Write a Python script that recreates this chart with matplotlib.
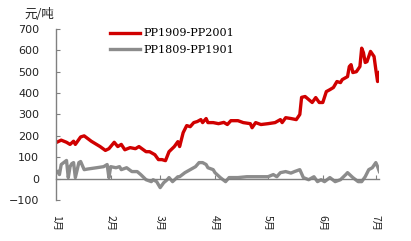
import matplotlib
matplotlib.use("Agg")
import matplotlib.pyplot as plt
import pandas as pd

plt.rcParams["font.family"] = ["DejaVu Sans", "Noto Sans CJK SC"]

red_dates = ["01-02","01-04","01-07","01-09","01-11","01-12","01-15","01-17","01-21","01-26",
             "01-29","01-31","02-03","02-05","02-07","02-09","02-12","02-15","02-17","02-21",
             "02-23","02-26","02-28","03-02","03-04","03-06","03-09","03-11","03-12","03-14",
             "03-16","03-18","03-20","03-22","03-24","03-25","03-27","03-28","03-31","04-03",
             "04-06","04-08","04-10","04-14","04-17","04-21","04-22","04-24","04-27","05-01",
             "05-05","05-08","05-09","05-11","05-14","05-17","05-19","05-20","05-22","05-24",
             "05-26","05-28","05-30","06-01","06-03","06-05","06-07","06-09","06-11","06-12",
             "06-15","06-16","06-17","06-18","06-20","06-22","06-23","06-24","06-25","06-26",
             "06-28","06-30","07-01","07-02","07-03"]
red_vals = [172,180,170,160,175,160,195,200,175,150,
            132,140,170,150,160,135,145,140,150,126,
            126,112,89,89,84,126,150,173,150,215,
            248,243,262,267,276,262,281,262,262,257,
            263,253,271,271,262,257,238,262,253,257,
            262,276,262,285,281,276,300,380,384,370,
            356,379,356,356,407,416,426,454,449,463,
            477,524,533,496,500,524,610,589,543,547,
            595,571,510,454,496]

grey_dates = ["01-02","01-03","01-04","01-07","01-08","01-09","01-10","01-11","01-12","01-14",
              "01-15","01-17","01-19","01-24","01-28","01-30","01-31","02-01","02-04","02-06",
              "02-07","02-10","02-13","02-16","02-18","02-21","02-24","02-25","02-27","03-01",
              "03-03","03-05","03-06","03-08","03-11","03-12","03-15","03-18","03-21","03-23",
              "03-25","03-27","03-28","03-31","04-01","04-04","04-07","04-09","04-14","04-19",
              "04-25","05-01","05-04","05-06","05-08","05-11","05-14","05-16","05-19","05-21",
              "05-24","05-27","05-29","05-31","06-02","06-05","06-08","06-11","06-14","06-15",
              "06-18","06-21","06-23","06-25","06-27","06-29","07-01","07-02","07-03"]
grey_vals = [33,19,66,85,5,56,70,75,5,75,
             80,42,45,51,56,66,5,56,51,56,
             42,51,33,33,19,-5,-14,-5,-14,-42,
             -19,-5,5,-14,9,9,28,42,56,75,
             75,66,51,42,28,5,-14,5,5,9,
             9,9,19,9,28,33,26,33,42,5,
             -5,9,-14,-5,-14,5,-14,-5,19,28,
             5,-14,-14,9,42,51,75,56,33]

month_labels = ["1月","2月","3月","4月","5月","6月","7月"]
series_names = ["PP1909-PP2001", "PP1809-PP1901"]

year = "2019-"
rd = pd.to_datetime([year + d for d in red_dates])
gd = pd.to_datetime([year + d for d in grey_dates])

fig = plt.figure(figsize=(4.11, 2.41), dpi=100)
ax = fig.add_axes([0.136, 0.170, 0.787, 0.710])

ax.plot(rd, red_vals, color="#D00000", lw=2.4, label=series_names[0], solid_joinstyle="round")
ax.plot(gd, grey_vals, color="#8C8C8C", lw=2.4, label=series_names[1], solid_joinstyle="round")

ax.set_ylim(-100, 700)
ax.set_yticks(range(-100, 701, 100))
ax.set_xlim(pd.Timestamp("2019-01-01"), pd.Timestamp("2019-07-03"))
ticks = pd.date_range("2019-01-01", periods=7, freq="MS")
ax.set_xticks(ticks)
ax.set_xticklabels(month_labels)

for s in ["top", "right"]:
    ax.spines[s].set_visible(False)
ax.spines["bottom"].set_position(("data", 0))
for s in ["left", "bottom"]:
    ax.spines[s].set_color("#808080")
    ax.spines[s].set_linewidth(1.0)

ax.tick_params(axis="y", direction="in", length=3, color="#808080", pad=12, labelsize=8, labelcolor="#222222")
ax.tick_params(axis="x", direction="in", length=3, color="#808080", pad=26, labelcolor="#222222",
               labelsize=7.5, labelrotation=270)
for t in ax.get_xticklabels():
    t.set_family(["Noto Sans CJK SC", "DejaVu Sans"])

fig.text(0.06, 0.94, "元/吨", family=["Noto Sans CJK SC", "DejaVu Sans"], fontsize=9,
         va="center", ha="left", color="#222222")

leg = ax.legend(loc="upper left", bbox_to_anchor=(0.268, 0.0, 0.5, 0.882), bbox_transform=fig.transFigure,
                frameon=False, prop={"family": "DejaVu Serif", "size": 8.0},
                handlelength=2.7, handletextpad=0.3, labelspacing=0.6, borderaxespad=0, borderpad=0)

fig.savefig("out.png", dpi=100)
